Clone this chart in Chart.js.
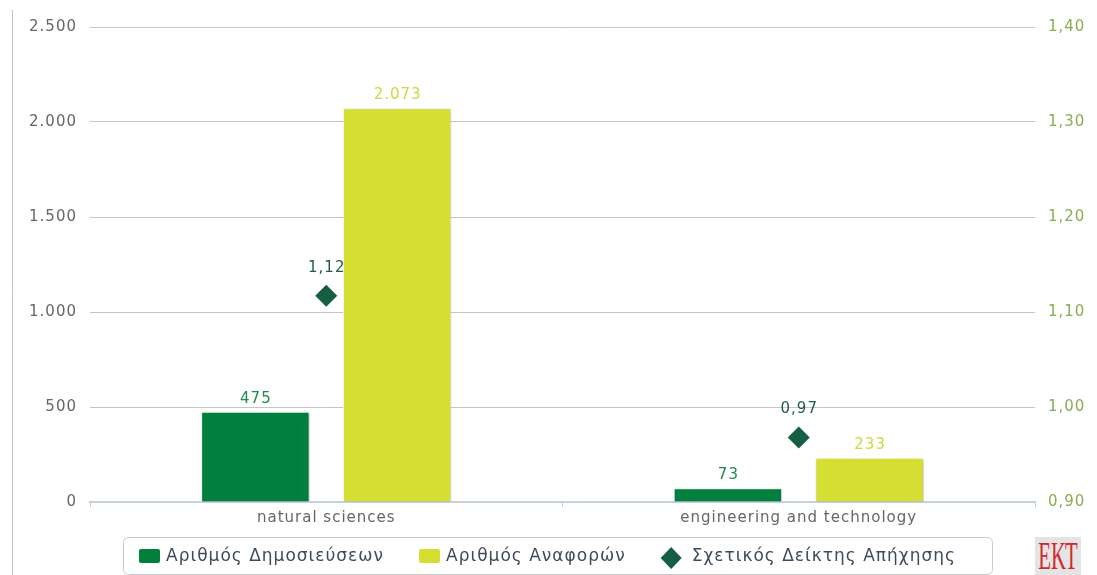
<!DOCTYPE html>
<html><head><meta charset="utf-8">
<script src="https://cdn.jsdelivr.net/npm/chart.js@4/dist/chart.umd.min.js"></script>
<style>
html,body{margin:0;padding:0;background:#fff;}
#wrap{position:relative;width:1097px;height:575px;overflow:hidden;background:#fff;}
#c{position:absolute;left:0;top:0;}
#logo{position:absolute;left:1035px;top:537px;width:46px;height:38px;background:#e4e4e4;overflow:hidden;text-align:center;}
#logo span{display:inline-block;font-family:"Liberation Serif","DejaVu Serif",serif;font-size:40px;line-height:38px;color:#d3272f;transform:scaleX(0.52);transform-origin:center;white-space:nowrap;margin-left:-40px;margin-right:-40px;}
</style></head><body>
<div id="wrap"><canvas id="c" width="1097" height="575"></canvas><div id="logo"><span>ΕΚΤ</span></div></div>
<script>
const categories = ['natural sciences', 'engineering and technology'];
const publications = [475, 73];
const citations = [2073, 233];
const citationIndex = [1.117, 0.968];
const seriesNames = ['Αριθμός Δημοσιεύσεων', 'Αριθμός Αναφορών', 'Σχετικός Δείκτης Απήχησης'];
const leftTicks = [0, 500, 1000, 1500, 2000, 2500];
const rightTicks = [0.90, 1.00, 1.10, 1.20, 1.30, 1.40];

const FONT = '"DejaVu Sans", Verdana, sans-serif';
const GREEN = '#007f3d', YELLOW = '#d4df31', DIAMOND = '#155e42';
const LABEL_COLORS = ['#1f8a4f', '#cfd93a', '#1e5e45'];

function thousands(v){ return String(Math.round(v)).replace(/\B(?=(\d{3})+(?!\d))/g, '.'); }
function dec2(v){ return Number(v).toFixed(2).replace('.', ','); }

const spacing = {
  id: 'spacing',
  beforeUpdate(chart){ chart.ctx.letterSpacing = '1px'; },
  beforeLayout(chart){ chart.ctx.letterSpacing = '1px'; },
  beforeDraw(chart){ chart.ctx.letterSpacing = '1px'; }
};

const shadow = {
  id: 'shadow',
  beforeDatasetDraw(chart, args){
    if (args.meta.type !== 'bar') return;
    const ctx = chart.ctx; ctx.save();
    ctx.shadowColor = 'rgba(0,0,0,0.28)'; ctx.shadowBlur = 3; ctx.shadowOffsetX = 1; ctx.shadowOffsetY = 1;
  },
  afterDatasetDraw(chart, args){
    if (args.meta.type !== 'bar') return;
    chart.ctx.restore();
  }
};

const valueLabels = {
  id: 'valueLabels',
  afterDatasetsDraw(chart){
    const ctx = chart.ctx;
    ctx.save();
    ctx.letterSpacing = '1px';
    ctx.font = '15px ' + FONT;
    ctx.textAlign = 'center';
    ctx.textBaseline = 'middle';
    chart.data.datasets.forEach((ds, di) => {
      const meta = chart.getDatasetMeta(di);
      meta.data.forEach((el, i) => {
        const v = ds.data[i];
        const isLine = meta.type === 'line';
        const txt = isLine ? dec2(v) : thousands(v);
        ctx.fillStyle = LABEL_COLORS[di];
        ctx.fillText(txt, el.x + 0.5, el.y - (isLine ? 28 : 13));
      });
    });
    ctx.restore();
  }
};

const frameLegend = {
  id: 'frameLegend',
  afterDraw(chart){
    const ctx = chart.ctx;
    ctx.save();
    ctx.strokeStyle = '#b7c6d6'; ctx.lineWidth = 1;
    ctx.beginPath(); ctx.moveTo(12.5, 10); ctx.lineTo(12.5, 575); ctx.stroke();
    ctx.strokeStyle = '#c9c9c9';
    ctx.beginPath(); ctx.roundRect(123.5, 537.5, 869, 37, 5); ctx.stroke();
    ctx.letterSpacing = '1px';
    ctx.font = '17px ' + FONT;
    ctx.textBaseline = 'middle'; ctx.textAlign = 'left';
    let x = 139;
    const colors = [GREEN, YELLOW, DIAMOND];
    seriesNames.forEach((name, i) => {
      ctx.fillStyle = colors[i];
      if (i < 2) {
        ctx.beginPath(); ctx.roundRect(x, 549, 21, 14, 2); ctx.fill();
      } else {
        const cx = x + 10.5, cy = 558;
        ctx.beginPath(); ctx.moveTo(cx - 10.5, cy); ctx.lineTo(cx, cy - 11); ctx.lineTo(cx + 10.5, cy); ctx.lineTo(cx, cy + 11); ctx.closePath(); ctx.fill();
      }
      ctx.fillStyle = '#3d4c5c';
      const tx = x + 27 + (i === 2 ? 4 : 0);
      ctx.fillText(name, tx, 557);
      x = tx + ctx.measureText(name).width + 35;
    });
    ctx.restore();
  }
};

new Chart(document.getElementById('c'), {
  data: {
    labels: categories,
    datasets: [
      { type: 'bar', label: seriesNames[0], data: publications, backgroundColor: GREEN, borderColor: '#ffffff', borderWidth: 1, yAxisID: 'y', order: 2, categoryPercentage: 0.6, barPercentage: 0.765 },
      { type: 'bar', label: seriesNames[1], data: citations, backgroundColor: YELLOW, borderColor: '#ffffff', borderWidth: 1, yAxisID: 'y', order: 2, categoryPercentage: 0.6, barPercentage: 0.765 },
      { type: 'line', label: seriesNames[2], data: citationIndex, yAxisID: 'y1', showLine: false, pointStyle: 'rectRot', pointRadius: 11, pointHoverRadius: 11, pointBackgroundColor: DIAMOND, pointBorderColor: DIAMOND, pointBorderWidth: 0, backgroundColor: DIAMOND, borderColor: DIAMOND, order: 0 }
    ]
  },
  options: {
    responsive: false,
    animation: false,
    devicePixelRatio: 1,
    layout: { padding: { top: 27, left: 0, right: 0, bottom: 43 } },
    plugins: { legend: { display: false }, tooltip: { enabled: false } },
    scales: {
      x: {
        offset: true,
        grid: { display: true, offset: true, drawOnChartArea: false, drawTicks: true, tickLength: 5, color: '#c3d1e0', lineWidth: 1 },
        border: { display: true, color: '#c3d1e0', width: 2 },
        ticks: { color: '#666666', font: { family: FONT, size: 15 }, padding: 2, maxRotation: 0 },
        afterFit(s){ s.height = 30; }
      },
      y: {
        position: 'left', min: leftTicks[0], max: leftTicks[leftTicks.length - 1],
        afterBuildTicks(s){ s.ticks = leftTicks.map(v => ({ value: v })); },
        ticks: { color: '#666666', font: { family: FONT, size: 15 }, padding: 13, callback: v => thousands(v) },
        grid: { color: '#c6c6c6', lineWidth: 1, drawTicks: false },
        border: { display: false },
        afterFit(s){ s.width = 90; }
      },
      y1: {
        position: 'right', min: rightTicks[0], max: rightTicks[rightTicks.length - 1],
        afterBuildTicks(s){ s.ticks = rightTicks.map(v => ({ value: v })); },
        ticks: { color: '#8cab55', font: { family: FONT, size: 15 }, padding: 13, callback: v => dec2(v) },
        grid: { display: false, drawTicks: false },
        border: { display: false },
        afterFit(s){ s.width = 62; }
      }
    }
  },
  plugins: [spacing, shadow, valueLabels, frameLegend]
});
</script>
</body></html>
